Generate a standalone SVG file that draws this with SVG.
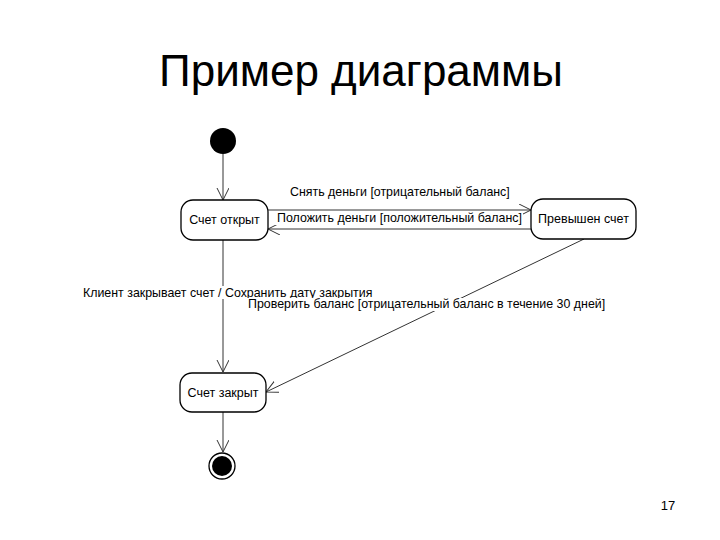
<svg xmlns="http://www.w3.org/2000/svg" width="720" height="540" viewBox="0 0 720 540">
<defs>
<style>
.st{fill:#fff;stroke:#000;stroke-width:1.3}
.lbl{font-family:"Liberation Sans",Arial,sans-serif;font-size:12.4px;fill:#000}
.nl{font-family:"Liberation Sans",Arial,sans-serif;font-size:12.5px;fill:#000;text-anchor:middle}
.ln{fill:none;stroke:#333;stroke-width:1}
</style>
<marker id="open" markerWidth="14" markerHeight="14" refX="12" refY="6" orient="auto" markerUnits="userSpaceOnUse">
<path d="M0,0 L12,6 L0,12" fill="none" stroke="#333" stroke-width="1"/>
</marker>
</defs>
<rect width="720" height="540" fill="#fff"/>
<text x="361" y="86" font-family="Liberation Sans,Arial,sans-serif" font-size="44" text-anchor="middle" fill="#000">Пример диаграммы</text>
<g id="connectors">
<line class="ln" x1="223" y1="154" x2="223" y2="200" marker-end="url(#open)"/>
<line class="ln" x1="268" y1="210" x2="531" y2="210" marker-end="url(#open)"/>
<line class="ln" x1="531" y1="229" x2="268" y2="229" marker-end="url(#open)"/>
<line class="ln" x1="223" y1="240" x2="223" y2="372" marker-end="url(#open)"/>
<line class="ln" x1="584" y1="239" x2="266" y2="392" marker-end="url(#open)"/>
<line class="ln" x1="223" y1="412" x2="223" y2="452" marker-end="url(#open)"/>
<rect x="288" y="185" width="222" height="14" fill="#fff"/>
<text class="lbl" x="290" y="196">Снять деньги [отрицательный баланс]</text>
<rect x="275" y="211" width="248" height="14" fill="#fff"/>
<text class="lbl" x="277" y="222">Положить деньги [положительный баланс]</text>
<rect x="81" y="286" width="292" height="13" fill="#fff"/>
<text class="lbl" x="83" y="297">Клиент закрывает счет / Сохранить дату закрытия</text>
<rect x="246" y="298" width="360" height="13" fill="#fff"/>
<text class="lbl" x="248" y="308">Проверить баланс [отрицательный баланс в течение 30 дней]</text>
</g>
<g id="initial"><circle cx="223" cy="141" r="13" fill="#000"/></g>
<g id="open-state"><rect class="st" x="181" y="200" width="87" height="40" rx="12"/><text class="nl" x="224.5" y="224">Счет открыт</text></g>
<g id="overdrawn"><rect class="st" x="531" y="199" width="105" height="40" rx="12"/><text class="nl" x="583.5" y="223">Превышен счет</text></g>
<g id="closed"><rect class="st" x="180" y="373" width="86" height="39" rx="12"/><text class="nl" x="223" y="397">Счет закрыт</text></g>
<g id="final"><circle cx="222" cy="466" r="13" fill="#fff" stroke="#000" stroke-width="1.3"/><circle cx="222" cy="466" r="10" fill="#000"/></g>
<text x="668" y="510" font-family="Liberation Sans,Arial,sans-serif" font-size="13" text-anchor="middle" fill="#000">17</text>
</svg>
